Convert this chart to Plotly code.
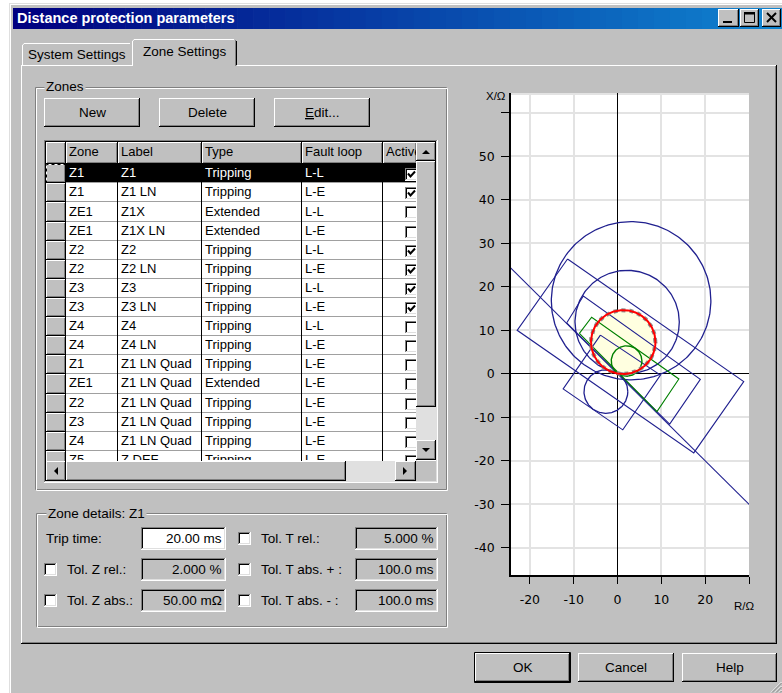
import numpy as np
import plotly.graph_objects as go

W, H = 782, 693

# ---------------- data ----------------
window_title = "Distance protection parameters"
tab_labels = ["System Settings", "Zone Settings"]
button_labels = ["New", "Delete", "<u>E</u>dit..."]
dialog_buttons = ["OK", "Cancel", "Help"]

col_headers = ["Zone", "Label", "Type", "Fault loop", "Active"]
zones = ["Z1", "Z1", "ZE1", "ZE1", "Z2", "Z2", "Z3", "Z3", "Z4", "Z4",
         "Z1", "ZE1", "Z2", "Z3", "Z4", "Z5"]
labels = ["Z1", "Z1 LN", "Z1X", "Z1X LN", "Z2", "Z2 LN", "Z3", "Z3 LN", "Z4", "Z4 LN",
          "Z1 LN Quad", "Z1 LN Quad", "Z1 LN Quad", "Z1 LN Quad", "Z1 LN Quad", "Z DEF"]
types = ["Tripping", "Tripping", "Extended", "Extended", "Tripping", "Tripping", "Tripping",
         "Tripping", "Tripping", "Tripping", "Tripping", "Extended", "Tripping", "Tripping",
         "Tripping", "Tripping"]
loops = ["L-L", "L-E", "L-L", "L-E", "L-L", "L-E", "L-L", "L-E", "L-L", "L-E",
         "L-E", "L-E", "L-E", "L-E", "L-E", "L-E"]
active = [1, 1, 0, 0, 1, 1, 1, 1, 0, 0, 0, 0, 0, 0, 0, 0]
selected_row = 0

details_title = "Zone details: Z1"
detail_labels = ["Trip time:", "Tol. Z rel.:", "Tol. Z abs.:"]
detail_values = ["20.00 ms", "2.000 %", "50.00 mΩ"]
tol_labels = ["Tol. T rel.:", "Tol. T abs. + :", "Tol. T abs. - :"]
tol_values = ["5.000 %", "100.0 ms", "100.0 ms"]

# R/X diagram (Ohm)
x_ticks = [-20, -10, 0, 10, 20, 30]
x_tick_text = ["-20", "-10", "0", "10", "20", ""]
y_ticks = [-40, -30, -20, -10, 0, 10, 20, 30, 40, 50, 60]
y_tick_text = ["-40", "-30", "-20", "-10", "0", "10", "20", "30", "40", "50", ""]

mho_R = [3.1, 2.2, -2.65]
mho_X = [16.8, 11.9, -4.1]
mho_radius = [18.2, 11.9, 5.0]
sel_R, sel_X, sel_radius = 1.3, 7.3, 7.35
green_R, green_X, green_radius = 2.07, 2.94, 3.5

rect_big_R = [-11.4, 28.8, 17.4, -22.9, -11.4]
rect_big_X = [26.4, -1.8, -18.2, 10.0, 26.4]
quad_mid_R = [-11.6, -7.8, 18.9, 11.9, -11.6]
quad_mid_X = [11.7, 17.9, -1.3, -11.6, 11.7]
rect_small_R = [-3.9, 9.8, 1.2, -12.4, -3.9]
rect_small_X = [8.9, -0.3, -12.9, -3.5, 8.9]
quad_green_R = [-8.7, -5.9, 14.0, 9.0, -8.7]
quad_green_X = [9.3, 13.0, -1.2, -8.7, 9.3]
dir_line_R = [-30, 35]
dir_line_X = [30, -35]

# ---------------- styling helpers ----------------
GRAY = "#C0C0C0"
WHITE = "#FFFFFF"
DARK = "#808080"
BLACK = "#000000"
LIGHT = "#DFDFDF"
DITHER = "#E0E0E0"
BLUE = "#20208F"
GREEN = "#008000"
UI_FONT = "Liberation Sans"

shapes = []
annots = []


def P(x):
    return x / W


def Q(y):
    return 1 - y / H


def seg(x0, y0, x1, y1, color, w=1, dash=None):
    ln = dict(color=color, width=w)
    if dash:
        ln["dash"] = dash
    shapes.append(dict(type="line", xref="paper", yref="paper", x0=P(x0), y0=Q(y0),
                       x1=P(x1), y1=Q(y1), line=ln, layer="below"))


def box(x0, y0, x1, y1, fill, line=None, w=1, dash=None):
    ln = dict(color=line if line else "rgba(0,0,0,0)", width=w if line else 0)
    if dash:
        ln["dash"] = dash
    shapes.append(dict(type="rect", xref="paper", yref="paper", x0=P(x0), y0=Q(y1),
                       x1=P(x1), y1=Q(y0), fillcolor=fill, line=ln, layer="below"))


def poly(pts, fill, line=None, w=1):
    path = "M" + " L".join(f"{P(a):.5f},{Q(b):.5f}" for a, b in pts) + " Z"
    shapes.append(dict(type="path", xref="paper", yref="paper", path=path, fillcolor=fill,
                       line=dict(color=line if line else "rgba(0,0,0,0)", width=w if line else 0),
                       layer="below"))


def hl(x0, x1, y, c):
    seg(x0, y + 0.5, x1, y + 0.5, c)


def vl(x, y0, y1, c):
    seg(x + 0.5, y0, x + 0.5, y1, c)


def raised(x0, y0, x1, y1, fill=GRAY):
    box(x0, y0, x1, y1, fill)
    hl(x0, x1 - 1, y0, WHITE)
    vl(x0, y0, y1 - 1, WHITE)
    hl(x0, x1, y1 - 1, BLACK)
    vl(x1 - 1, y0, y1, BLACK)
    hl(x0 + 1, x1 - 1, y1 - 2, DARK)
    vl(x1 - 2, y0 + 1, y1 - 1, DARK)


def sunken(x0, y0, x1, y1, fill):
    box(x0, y0, x1, y1, fill)
    hl(x0, x1, y0, DARK)
    vl(x0, y0, y1, DARK)
    hl(x0 + 1, x1 - 1, y0 + 1, BLACK)
    vl(x0 + 1, y0 + 1, y1 - 1, BLACK)
    hl(x0, x1, y1 - 1, WHITE)
    vl(x1 - 1, y0, y1, WHITE)
    hl(x0 + 1, x1 - 1, y1 - 2, LIGHT)
    vl(x1 - 2, y0 + 1, y1 - 1, LIGHT)


def etched(x0, y0, x1, y1):
    box(x0 + 0.5, y0 + 0.5, x1 - 1.5, y1 - 1.5, "rgba(0,0,0,0)", DARK)
    box(x0 + 1.5, y0 + 1.5, x1 - 0.5, y1 - 0.5, "rgba(0,0,0,0)", WHITE)


def txt(x, y, s, size=13.5, color=BLACK, anchor="left", family=UI_FONT, bg=None):
    a = dict(xref="paper", yref="paper", x=P(x), y=Q(y), text=s, showarrow=False,
             xanchor=anchor, yanchor="middle", borderpad=1,
             font=dict(family=family, size=size, color=color))
    if bg:
        a["bgcolor"] = bg
    annots.append(a)


def checkbox(x, y, checked):
    sunken(x, y, x + 13, y + 13, WHITE)
    if checked:
        pts = [(x + 3, y + 5.5), (x + 5.5, y + 8.5), (x + 10, y + 3.5)]
        path = "M" + " L".join(f"{P(a):.5f},{Q(b):.5f}" for a, b in pts)
        shapes.append(dict(type="path", xref="paper", yref="paper", path=path,
                           line=dict(color=BLACK, width=2), layer="below"))


# ---------------- window ----------------
box(9, 3, W, H, GRAY)
hl(9, W, 3, LIGHT)
vl(9, 3, H, LIGHT)
hl(10, W, 4, WHITE)
vl(10, 4, H, WHITE)

# title bar gradient
c0 = np.array([0, 0, 128])
c1 = np.array([16, 132, 208])
n = 48
tx0, tx1 = 13, W
for i in range(n):
    c = c0 + (c1 - c0) * i / (n - 1)
    xa = tx0 + (tx1 - tx0) * i / n
    xb = tx0 + (tx1 - tx0) * (i + 1) / n + 0.6
    box(xa, 8, xb, 29, f"rgb({int(c[0])},{int(c[1])},{int(c[2])})")
txt(15, 18.5, f"<b>{window_title}</b>", size=14.5, color=WHITE)

# caption buttons
raised(718, 9, 739, 27)
box(723, 21, 732, 23, BLACK)
raised(740, 9, 759, 27)
box(744.5, 12.5, 754.5, 22.5, "rgba(0,0,0,0)", BLACK)
box(744, 12, 755, 14.5, BLACK)
raised(762, 9, 781, 27)
seg(767, 13, 776, 22, BLACK, 2)
seg(767, 22, 776, 13, BLACK, 2)

# ---------------- tab panel ----------------
box(21, 65, 777, 644, GRAY)
hl(21, 777, 65, WHITE)
vl(21, 65, 644, WHITE)
hl(21, 777, 643, BLACK)
vl(776, 65, 644, BLACK)
hl(22, 776, 642, DARK)
vl(775, 66, 643, DARK)

# inactive tab
box(22, 43, 132, 65, GRAY)
hl(24, 130, 43, WHITE)
vl(22, 45, 65, WHITE)
seg(22.5, 45, 24.5, 43.5, WHITE)
# active tab
box(132, 39, 237, 67, GRAY)
hl(134, 234, 39, WHITE)
vl(132, 41, 66, WHITE)
seg(132.5, 41, 134.5, 39.5, WHITE)
vl(236, 41, 65, BLACK)
vl(235, 40, 66, DARK)
txt(77, 55, tab_labels[0], anchor="center")
txt(184.5, 52, tab_labels[1], anchor="center")

# ---------------- zones group ----------------
etched(35, 87, 448, 491)
txt(44, 87, "Zones", bg=GRAY)
btn_x = [(44, 140), (159, 255), (274, 370)]
for (bx0, bx1), lab in zip(btn_x, button_labels):
    raised(bx0, 98, bx1, 127)
    txt((bx0 + bx1) / 2, 112.5, lab, anchor="center")

# ---------------- table ----------------
col_x = [66, 118, 202, 302, 383, 416]
row_h = 19.1
row_top0 = 164.3
sunken(44, 140, 438, 483, WHITE)
# header
raised(46, 142, 66, 164)
for j in range(5):
    raised(col_x[j], 142, col_x[j + 1] + (1 if j == 4 else 0), 164)
# rows
for k in range(len(zones)):
    t = round(row_top0 + row_h * k)
    b = round(row_top0 + row_h * (k + 1))
    raised(46, t, 66, b)
    if k == selected_row:
        box(66, t, 416, b, BLACK)
        box(46.5, t + 0.5, 65.5, b - 0.5, "rgba(0,0,0,0)", BLACK, 1, "dot")
    hl(66, 416, b - 1, "#A0A0A0")
for j in range(1, 5):
    vl(col_x[j] - 1, 164, 461, BLACK)
for k in range(len(zones)):
    t = round(row_top0 + row_h * k)
    checkbox(405, t + 4, active[k])

# vertical scrollbar
raised(416, 142, 436, 161)
poly([(422, 154), (430, 154), (426, 150)], BLACK)
raised(416, 161, 436, 407)
box(416, 407, 436, 440, DITHER)
raised(416, 440, 436, 460)
poly([(422, 448), (430, 448), (426, 452)], BLACK)
# horizontal scrollbar
raised(46, 461, 66, 481)
poly([(58, 467), (58, 475), (54, 471)], BLACK)
raised(66, 461, 346, 481)
box(346, 461, 395, 481, DITHER)
raised(395, 461, 416, 481)
poly([(403, 467), (403, 475), (407, 471)], BLACK)
box(416, 461, 436, 481, GRAY)

# table text (clipped to the grid viewport through a hidden axis pair)
tx, ty, tt, tc = [], [], [], []
for j, hname in enumerate(col_headers):
    tx.append(col_x[j] + 3)
    ty.append(153)
    tt.append(hname)
    tc.append(BLACK)
for k in range(len(zones)):
    yc = row_top0 + row_h * k + 9.8
    colr = WHITE if k == selected_row else BLACK
    for j, val in enumerate([zones[k], labels[k], types[k], loops[k]]):
        tx.append(col_x[j] + 3)
        ty.append(yc)
        tt.append(val)
        tc.append(colr)

# ---------------- zone details group ----------------
etched(36, 513, 448, 628)
txt(46, 513, details_title, bg=GRAY)
row_y = [527, 558, 589]
for i in range(3):
    y0 = row_y[i]
    yc = y0 + 11.5
    if i == 0:
        txt(44, yc, detail_labels[i])
    else:
        checkbox(44, yc - 6.5, 0)
        txt(65, yc, detail_labels[i])
    sunken(141, y0, 226, y0 + 23, WHITE if i == 0 else GRAY)
    txt(224, yc, detail_values[i], anchor="right")
    checkbox(238, yc - 6.5, 0)
    txt(259, yc, tol_labels[i])
    sunken(355, y0, 438, y0 + 23, GRAY)
    txt(436, yc, tol_values[i], anchor="right")

# ---------------- R/X plot background ----------------
PX0, PX1, PY0, PY1 = 511, 749, 93, 575
box(PX0, PY0, PX1, PY1, WHITE)
seg(PX0, PY0 + 1, PX1, PY0 + 1, "#E3E3E3", 2)
txt(484, 96, "X/Ω", size=11.5)
txt(732, 606, "R/Ω", size=11.5)

# ---------------- dialog buttons ----------------
box(474.5, 652.5, 570.5, 682.5, "rgba(0,0,0,0)", BLACK)
raised(475, 653, 570, 682)
raised(578, 653, 674, 682)
raised(682, 653, 777, 682)
for (bx0, bx1), lab in zip([(475, 570), (578, 674), (682, 777)], dialog_buttons):
    txt((bx0 + bx1) / 2, 667.5, lab, anchor="center")
# size grip
for d in (3, 7, 11):
    seg(W - d, H - 0.5, W - 0.5, H - d, WHITE)
    seg(W - d + 1, H - 0.5, W - 0.5, H - d + 1, DARK)

# ---------------- figure ----------------
fig = go.Figure()
theta = np.linspace(0, 2 * np.pi, 241)

# selected zone fill
fig.add_trace(go.Scatter(x=sel_R + sel_radius * np.cos(theta), y=sel_X + sel_radius * np.sin(theta),
                         mode="lines", fill="toself", fillcolor="#FFFFE0",
                         line=dict(color="rgba(0,0,0,0)", width=0), hoverinfo="skip"))
for cr, cx, rr in zip(mho_R, mho_X, mho_radius):
    fig.add_trace(go.Scatter(x=cr + rr * np.cos(theta), y=cx + rr * np.sin(theta), mode="lines",
                             line=dict(color=BLUE, width=1.3), hoverinfo="skip"))
for rx, xx in [(rect_big_R, rect_big_X), (quad_mid_R, quad_mid_X), (rect_small_R, rect_small_X)]:
    fig.add_trace(go.Scatter(x=rx, y=xx, mode="lines", line=dict(color=BLUE, width=1.1),
                             hoverinfo="skip"))
fig.add_trace(go.Scatter(x=dir_line_R, y=dir_line_X, mode="lines", line=dict(color=BLUE, width=1.1),
                         hoverinfo="skip"))
fig.add_trace(go.Scatter(x=quad_green_R, y=quad_green_X, mode="lines",
                         line=dict(color=GREEN, width=1.1), hoverinfo="skip"))
fig.add_trace(go.Scatter(x=green_R + green_radius * np.cos(theta),
                         y=green_X + green_radius * np.sin(theta), mode="lines",
                         line=dict(color=GREEN, width=1.4), hoverinfo="skip"))
fig.add_trace(go.Scatter(x=sel_R + sel_radius * np.cos(theta), y=sel_X + sel_radius * np.sin(theta),
                         mode="lines", line=dict(color="#8C8C8C", width=4, dash="dot"),
                         hoverinfo="skip"))
fig.add_trace(go.Scatter(x=sel_R + sel_radius * np.cos(theta), y=sel_X + sel_radius * np.sin(theta),
                         mode="lines", line=dict(color="#FF0000", width=2), hoverinfo="skip"))

# table text
fig.add_trace(go.Scatter(x=tx, y=ty, text=tt, mode="text", textposition="middle right",
                         textfont=dict(family=UI_FONT, size=13, color=tc), cliponaxis=True,
                         xaxis="x2", yaxis="y2", hoverinfo="skip"))

axis_common = dict(showgrid=True, gridcolor="#E3E3E3", gridwidth=2, zeroline=True,
                   zerolinecolor=BLACK, zerolinewidth=1.2, showline=True, linecolor=BLACK,
                   linewidth=1.5, ticks="outside", tickcolor=BLACK, tickwidth=1,
                   tickfont=dict(family="DejaVu Sans", size=12.5, color=BLACK), fixedrange=True)

fig.update_layout(
    width=W, height=H,
    margin=dict(l=0, r=0, t=0, b=0, pad=0),
    paper_bgcolor=WHITE, plot_bgcolor="rgba(0,0,0,0)",
    showlegend=False,
    shapes=shapes, annotations=annots,
    xaxis=dict(domain=[PX0 / W, PX1 / W], range=[-24.3, 30.0], tickvals=x_ticks,
               ticktext=x_tick_text, ticklen=7, ticklabelstandoff=5, anchor="y", **axis_common),
    yaxis=dict(domain=[1 - PY1 / H, 1 - PY0 / H], range=[-46.3, 64.6], tickvals=y_ticks,
               ticktext=y_tick_text, ticklen=8, ticklabelstandoff=4, anchor="x", **axis_common),
    xaxis2=dict(domain=[46 / W, 416 / W], range=[46, 416], visible=False, anchor="y2",
                fixedrange=True),
    yaxis2=dict(domain=[1 - 460 / H, 1 - 142 / H], range=[460, 142], visible=False, anchor="x2",
                fixedrange=True),
)

fig.write_html("out.html", config={"displayModeBar": False},
               post_script="document.body.style.margin='0';")
